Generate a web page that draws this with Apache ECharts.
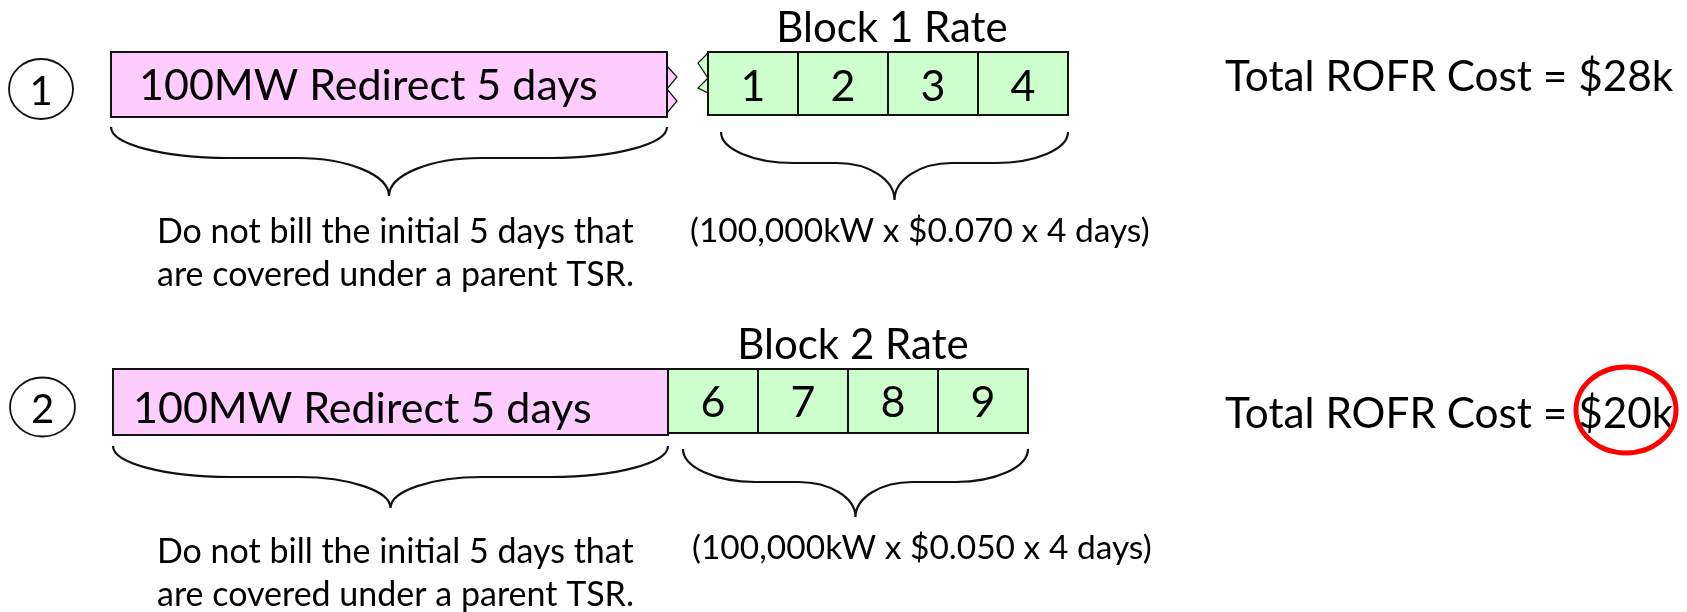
<!DOCTYPE html>
<html>
<head>
<meta charset="utf-8">
<title>ROFR Cost</title>
<script src="https://cdn.jsdelivr.net/npm/echarts@6/dist/echarts.min.js"></script>
<style>
    html, body {margin: 0; padding: 0; background: #fff;}
    #main {width: 1687px; height: 612px;}
</style>
</head>
<body>
<div id="main"></div>
<script>
// 图上的内容
var rowNumbers = ['1', '2'];
var redirectLabels = ['100MW Redirect 5 days', '100MW Redirect 5 days'];
var blockTitles = ['Block 1 Rate', 'Block 2 Rate'];
var blockDays = [[1, 2, 3, 4], [6, 7, 8, 9]];
var noteLines = ['Do not bill the initial 5 days that', 'are covered under a parent TSR.'];
var rateTexts = ['(100,000kW x $0.070 x 4 days)', '(100,000kW x $0.050 x 4 days)'];
var totalTexts = ['Total ROFR Cost = $28k', 'Total ROFR Cost = $20k'];
var circledRow = 1;

// 版面位置 (坐标轴单位 = 像素)
var rowLayout = [
    {
        circle: [41, 89, 32, 30], circleTextY: 92,
        pink: [111, 667, 52, 117], labelX: 139, labelY: 86.5, broken: true,
        greenX: 708, cellW: 90, green: [52, 115], cellTextY: 87,
        titleX: 892, titleY: 28,
        braceL: [111, 667, 127, 158, 196], braceR: [721, 1068, 132, 163, 200],
        noteX: 157, noteY: [232, 275], rateX: 690, rateY: 231,
        totalX: 1225, totalY: 77
    },
    {
        circle: [42.5, 407, 32.5, 29.5], circleTextY: 410,
        pink: [113, 668, 369, 435], labelX: 133, labelY: 409, broken: false,
        greenX: 668, cellW: 90, green: [369, 433], cellTextY: 403,
        titleX: 853, titleY: 345,
        braceL: [113, 668, 446, 477, 508], braceR: [683, 1028, 449, 482, 517],
        noteX: 157, noteY: [552, 595], rateX: 692, rateY: 548.5,
        totalX: 1225, totalY: 414,
        ring: [1626, 410, 50, 43]
    }
];

var FONT = 'Lato';
var LINE = '#111';
var PINK = '#ffccff';
var GREEN = '#ccffcc';

function mapper(api){
    return function (x, y){
        var p = api.coord([x, y]);
        return p[0].toFixed(1) + ' ' + p[1].toFixed(1);
    };
}

//椭圆
function ellipsePath(api, cx, cy, rx, ry){
    var m = mapper(api);
    var s = api.size([rx, ry]);
    return 'M' + m(cx - rx, cy) + ' A' + s[0] + ' ' + s[1] + ' 0 1 0 ' + m(cx + rx, cy) +
        ' A' + s[0] + ' ' + s[1] + ' 0 1 0 ' + m(cx - rx, cy) + ' Z';
}

//大括号 (朝下)
function bracePath(api, b){
    var m = mapper(api);
    var x0 = b[0], x1 = b[1], y0 = b[2], y1 = b[3], yt = b[4];
    var k = 0.5523;
    var half = (x1 - x0) / 2, xc = x0 + half;
    var a1 = half * 0.42, a2 = half * 0.33;
    var h1 = y1 - y0, h2 = yt - y1;
    return 'M' + m(x0, y0) +
        ' C' + m(x0, y0 + k * h1) + ' ' + m(x0 + a1 - k * a1, y1) + ' ' + m(x0 + a1, y1) +
        ' L' + m(xc - a2, y1) +
        ' C' + m(xc - a2 + k * a2, y1) + ' ' + m(xc, yt - k * h2) + ' ' + m(xc, yt) +
        ' C' + m(xc, yt - k * h2) + ' ' + m(xc + a2 - k * a2, y1) + ' ' + m(xc + a2, y1) +
        ' L' + m(x1 - a1, y1) +
        ' C' + m(x1 - a1 + k * a1, y1) + ' ' + m(x1, y0 + k * h1) + ' ' + m(x1, y0);
}

function triPath(api, pts){
    var m = mapper(api);
    return 'M' + m(pts[0], pts[1]) + ' L' + m(pts[2], pts[3]) + ' L' + m(pts[4], pts[5]) + ' Z';
}

function textEl(api, x, y, str, size, align){
    var p = api.coord([x, y]);
    return {
        type: 'text', x: p[0], y: p[1],
        style: {text: str, font: size + 'px ' + FONT, fill: '#000', align: align || 'left', verticalAlign: 'middle'}
    };
}

function rectEl(api, x0, x1, y0, y1, fill){
    var p0 = api.coord([x0, y0]), p1 = api.coord([x1, y1]);
    return {
        type: 'rect',
        shape: {x: p0[0], y: p0[1], width: p1[0] - p0[0], height: p1[1] - p0[1]},
        style: {fill: fill, stroke: LINE, lineWidth: 2}
    };
}

//每一行: 编号、粉色块、括号、说明文字、合计
function renderRow(params, api){
    var r = api.value(0);
    var L = rowLayout[r];
    var c = L.circle;
    var kids = [];
    kids.push({type: 'path', shape: {pathData: ellipsePath(api, c[0], c[1], c[2], c[3])},
        style: {fill: 'none', stroke: LINE, lineWidth: 1.8}});
    kids.push(textEl(api, c[0], L.circleTextY, rowNumbers[r], 40, 'center'));

    if (L.broken){
        // 断开标记
        var px = L.pink[1], gx = L.greenX;
        [[px, 66, px + 10, 77, px, 89], [px, 89, px + 10, 101, px, 113]].forEach(function (t){
            kids.push({type: 'path', shape: {pathData: triPath(api, t)}, style: {fill: PINK, stroke: LINE, lineWidth: 1.2}});
        });
        [[gx, 53, gx - 10, 63, gx, 78], [gx, 78, gx - 10, 88, gx, 93]].forEach(function (t){
            kids.push({type: 'path', shape: {pathData: triPath(api, t)}, style: {fill: GREEN, stroke: LINE, lineWidth: 1.2}});
        });
    }
    kids.push(rectEl(api, L.pink[0], L.pink[1], L.pink[2], L.pink[3], PINK));
    kids.push(textEl(api, L.labelX, L.labelY, redirectLabels[r], 43));

    kids.push(textEl(api, L.titleX, L.titleY, blockTitles[r], 42, 'center'));

    kids.push({type: 'path', shape: {pathData: bracePath(api, L.braceL)}, style: {fill: 'none', stroke: LINE, lineWidth: 2.2}});
    kids.push({type: 'path', shape: {pathData: bracePath(api, L.braceR)}, style: {fill: 'none', stroke: LINE, lineWidth: 2.2}});

    kids.push(textEl(api, L.noteX, L.noteY[0], noteLines[0], 34));
    kids.push(textEl(api, L.noteX, L.noteY[1], noteLines[1], 34));
    kids.push(textEl(api, L.rateX, L.rateY, rateTexts[r], 33.5));
    kids.push(textEl(api, L.totalX, L.totalY, totalTexts[r], 42.3));

    if (r === circledRow && L.ring){
        var g = L.ring;
        kids.push({type: 'path', shape: {pathData: ellipsePath(api, g[0], g[1], g[2], g[3])},
            style: {fill: 'none', stroke: '#ff0000', lineWidth: 5}});
    }
    return {type: 'group', children: kids};
}

//绿色的天数格子
function renderCell(params, api){
    var r = api.value(0), i = api.value(1), day = api.value(2);
    var L = rowLayout[r];
    var x0 = L.greenX + i * L.cellW;
    var x1 = x0 + L.cellW;
    return {
        type: 'group',
        children: [
            rectEl(api, x0, x1, L.green[0], L.green[1], GREEN),
            textEl(api, (x0 + x1) / 2, L.cellTextY, String(day), 43, 'center')
        ]
    };
}

var cellData = [];
for (var r in blockDays){
    for (var i in blockDays[r]){
        cellData.push([+r, +i, blockDays[r][i]]);
    }
}

var chart = echarts.init(document.getElementById('main'));
chart.setOption({
    animation: false,
    grid: {left: 0, right: 0, top: 0, bottom: 0},
    xAxis: {type: 'value', min: 0, max: 1687, show: false},
    yAxis: {type: 'value', min: 0, max: 612, inverse: true, show: false},
    series: [
        {type: 'custom', name: 'cells', renderItem: renderCell, data: cellData, z: 3},
        {type: 'custom', name: 'rows', renderItem: renderRow, data: [[0], [1]], z: 2}
    ]
});
</script>
</body>
</html>
